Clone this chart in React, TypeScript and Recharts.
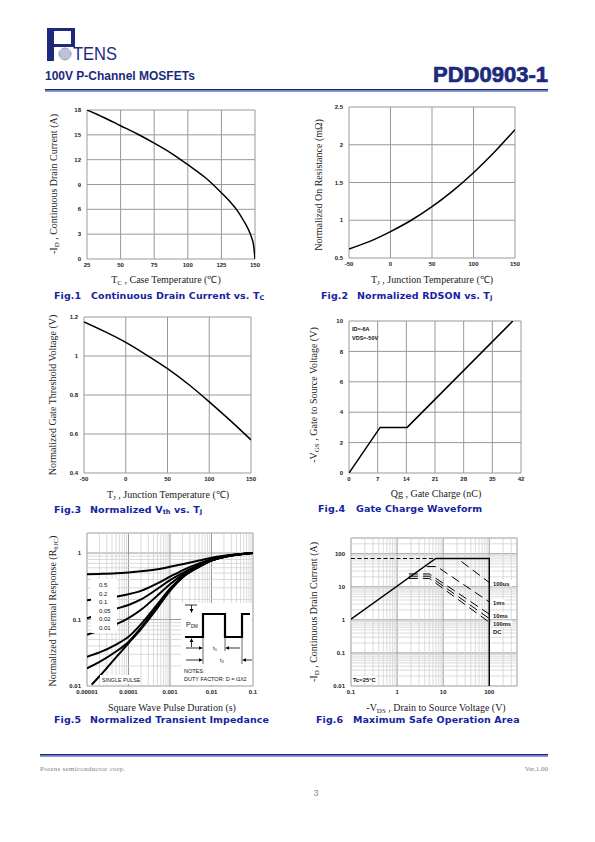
import React from "react";
import { LineChart, Line, XAxis, YAxis, CartesianGrid, ReferenceLine } from "recharts";

// Fig.1 - continuous drain current vs case temperature
const fig1CaseTemp = [25, 37.5, 50, 62.5, 75, 87.5, 100, 112.5, 125, 131, 137.5, 142, 145, 147, 149, 150];
const fig1DrainCurrent = [18, 17.1, 16.1, 15.1, 14.0, 12.8, 11.4, 9.9, 8.0, 7.0, 5.7, 4.5, 3.6, 2.8, 1.6, 0];
const fig1XTicks = [25, 50, 75, 100, 125, 150];
const fig1YTicks = [0, 3, 6, 9, 12, 15, 18];

// Fig.2 / Fig.3 - junction temperature sweeps
const junctionTemp = [-50, -25, 0, 25, 50, 75, 100, 125, 150];
const fig2Rdson = [0.62, 0.72, 0.85, 1.0, 1.18, 1.39, 1.63, 1.9, 2.2];
const fig3Vth = [1.175, 1.125, 1.07, 1.005, 0.935, 0.855, 0.765, 0.67, 0.57];
const junctionTicks = [-50, 0, 50, 100, 150];
const fig2YTicks = [0.5, 1, 1.5, 2, 2.5];
const fig3YTicks = [0.4, 0.6, 0.8, 1, 1.2];

// Fig.4 - gate charge
const fig4Charge = [0, 7.6, 14.2, 40];
const fig4Vgs = [0, 3, 3, 10];
const fig4XTicks = [0, 7, 14, 21, 28, 35, 42];
const fig4YTicks = [0, 2, 4, 6, 8, 10];

// Fig.5 - transient thermal impedance
const pulseWidth = [1e-5, 2e-5, 5e-5, 1e-4, 2e-4, 5e-4, 1e-3, 2e-3, 5e-3, 1e-2, 2e-2, 5e-2, 1e-1];
const zthD05 = [0.48, 0.485, 0.495, 0.51, 0.53, 0.57, 0.62, 0.68, 0.77, 0.85, 0.91, 0.97, 1.0];
const zthD02 = [0.195, 0.205, 0.22, 0.24, 0.27, 0.35, 0.44, 0.55, 0.7, 0.81, 0.89, 0.96, 1.0];
const zthD01 = [0.104, 0.12, 0.145, 0.165, 0.2, 0.29, 0.39, 0.5, 0.67, 0.79, 0.88, 0.96, 1.0];
const zthD005 = [0.059, 0.068, 0.085, 0.105, 0.14, 0.23, 0.34, 0.47, 0.65, 0.78, 0.88, 0.96, 1.0];
const zthD002 = [0.0276, 0.032, 0.042, 0.055, 0.085, 0.17, 0.29, 0.44, 0.63, 0.77, 0.87, 0.96, 1.0];
const zthD001 = [0.0185, 0.023, 0.033, 0.046, 0.075, 0.16, 0.28, 0.43, 0.62, 0.77, 0.87, 0.96, 1.0];
const singlePulseWidth = [1.3e-5, 2e-5, 5e-5, 1e-4, 2e-4, 5e-4, 1e-3, 2e-3, 5e-3, 1e-2, 2e-2, 5e-2, 1e-1];
const zthSingle = [0.0105, 0.014, 0.027, 0.044, 0.072, 0.15, 0.27, 0.43, 0.62, 0.77, 0.87, 0.96, 1.0];
const dutyLabels = ["0.5", "0.2", "0.1", "0.05", "0.02", "0.01"];
const fig5XTicks = [0.00001, 0.0001, 0.001, 0.01, 0.1];
const fig5YTicks = [0.01, 0.1, 1];

// Fig.6 - safe operating area
const soaLimitV = [0.1, 6.9, 100, 100];
const soaLimitI = [1.05, 72, 72, 0.01];
const soaCurrentCapV = [0.1, 6.9];
const soaCurrentCapI = [72, 72];
const soa100usV = [25, 100];
const soa100usI = [58, 13.5];
const soa1msV = [4.4, 7.3, 100];
const soa1msI = [41, 41, 3.5];
const soa10msV = [1.8, 5, 100];
const soa10msI = [24.5, 24.5, 1.5];
const soa100msV = [1.8, 5, 100];
const soa100msI = [21, 21, 1.1];
const soaDcV = [1.8, 5, 100];
const soaDcI = [18, 18, 0.85];
const soaLabels = ["100us", "1ms", "10ms", "100ms", "DC"];
const fig6XTicks = [0.1, 1, 10, 100];
const fig6YTicks = [0.01, 0.1, 1, 10, 100];

const pts = (xs: number[], ys: number[]) => xs.map((x, i) => ({ x, y: ys[i] }));

// 2..9 x 10^e for every decade between lo and hi (grid only)
const minorSteps = (lo: number, hi: number) => {
  const out: number[] = [];
  for (let e = lo; e < hi; e++) for (let m = 2; m <= 9; m++) out.push(+(m * Math.pow(10, e)).toPrecision(3));
  return out;
};

const SERIF = "'Liberation Serif', 'Times New Roman', serif";
const SANS = "'Liberation Sans', Arial, sans-serif";
const HEAVY = "'DejaVu Sans', Verdana, sans-serif";
const NAVY = "#1d2a7c";
const CAP_BLUE = "#1523a0";
const TICK = { fontSize: 6, fontWeight: 700, fill: "#222", fontFamily: SANS };

const YW = 26;
const XH = 14;
const PT = 4;
const PR = 8;

type Box = { x0: number; y0: number; x1: number; y1: number };

function Plot({
  box, xDomain, yDomain, xTicks, yTicks, log = false, xMinor = [], yMinor = [], children,
}: {
  box: Box; xDomain: number[]; yDomain: number[]; xTicks: number[]; yTicks: number[];
  log?: boolean; xMinor?: number[]; yMinor?: number[]; children: React.ReactNode;
}) {
  const w = box.x1 - box.x0 + YW + PR;
  const h = box.y1 - box.y0 + PT + XH;
  const scale = log ? "log" : "linear";
  return (
    <div style={{ position: "absolute", left: box.x0 - YW, top: box.y0 - PT }}>
      <LineChart width={w} height={h} margin={{ top: PT, right: PR, bottom: 0, left: 0 }}>
        <CartesianGrid stroke="#999" strokeWidth={1} />
        <XAxis
          dataKey="x" type="number" scale={scale} domain={xDomain} ticks={xTicks} interval={0}
          allowDataOverflow height={XH} tickSize={2} tickMargin={2} axisLine={false} tickLine={false} tick={TICK}
        />
        <YAxis
          type="number" scale={scale} domain={yDomain} ticks={yTicks} interval={0}
          allowDataOverflow width={YW} tickSize={4} tickMargin={2} axisLine={false} tickLine={false} tick={TICK}
        />
        {xMinor.map((v) => (
          <ReferenceLine key={"mx" + v} x={v} stroke="#d0d0d0" strokeWidth={0.8} />
        ))}
        {yMinor.map((v) => (
          <ReferenceLine key={"my" + v} y={v} stroke="#d0d0d0" strokeWidth={0.8} />
        ))}
        {children}
      </LineChart>
    </div>
  );
}

function curve(key: string, data: { x: number; y: number }[], opts: Record<string, unknown> = {}) {
  return (
    <Line
      key={key} data={data} dataKey="y" type="monotone" stroke="#000" strokeWidth={1.5}
      dot={false} activeDot={false} isAnimationActive={false} {...opts}
    />
  );
}

type Part = string | { s: string };
function rich(parts: Part[], subSize: number, shift = 2) {
  let down = false;
  return parts.map((p, i) => {
    if (typeof p === "string") {
      const dy = down ? -shift : 0;
      down = false;
      return <tspan key={i} dy={dy}>{p}</tspan>;
    }
    down = true;
    return <tspan key={i} fontSize={subSize} dy={shift}>{p.s}</tspan>;
  });
}

function YTitle({ cx, cy, parts }: { cx: number; cy: number; parts: Part[] }) {
  return (
    <text transform={`translate(${cx},${cy}) rotate(-90)`} y={3.5} textAnchor="middle" fontFamily={SERIF} fontSize={10} fill="#222">
      {rich(parts, 7)}
    </text>
  );
}

function XTitle({ cx, cy, parts }: { cx: number; cy: number; parts: Part[] }) {
  return (
    <text x={cx} y={cy + 3.5} textAnchor="middle" fontFamily={SERIF} fontSize={10} fill="#222">
      {rich(parts, 7)}
    </text>
  );
}

function Caption({ x, x2, cy, fig, parts }: { x: number; x2: number; cy: number; fig: string; parts: Part[] }) {
  return (
    <g fontFamily={HEAVY} fontWeight="bold" fontSize={9.5} letterSpacing={0.1} fill={CAP_BLUE}>
      <text x={x} y={cy + 3.5}>{fig}</text>
      <text x={x2} y={cy + 3.5}>{rich(parts, 6.5, 1.5)}</text>
    </g>
  );
}

function Arrow({ x1, y1, x2, y2 }: { x1: number; y1: number; x2: number; y2: number }) {
  const a = Math.atan2(y2 - y1, x2 - x1);
  const l = 4, hw = 1.8;
  const bx = x2 - l * Math.cos(a), by = y2 - l * Math.sin(a);
  const px = -Math.sin(a) * hw, py = Math.cos(a) * hw;
  return (
    <g>
      <line x1={x1} y1={y1} x2={bx} y2={by} stroke="#000" strokeWidth={0.8} />
      <path d={`M${x2},${y2} L${bx + px},${by + py} L${bx - px},${by - py} Z`} fill="#000" />
    </g>
  );
}

function Decorations() {
  const dutyY = [587, 595.5, 604, 612.5, 621, 629.5];
  const soaY = [585.5, 604.5, 617.5, 626, 633.5];
  return (
    <svg width={595} height={842} style={{ position: "absolute", left: 0, top: 0, pointerEvents: "none" }}>
      {/* logo */}
      <g fill={NAVY}>
        <rect x={47} y={28} width={7} height={33} />
        <rect x={54} y={28} width={19} height={3} />
        <rect x={71} y={28} width={4} height={19} />
        <rect x={54} y={44} width={19} height={3} />
      </g>
      <circle cx={65} cy={54} r={6.5} fill="#7d84ad" />
      <g stroke="#fff" strokeWidth={0.6}>
        {[-4, -2, 0, 2, 4].map((d) => (
          <line key={"h" + d} x1={58.5} x2={71.5} y1={54 + d} y2={54 + d} />
        ))}
        {[-4, -2, 0, 2, 4].map((d) => (
          <line key={"v" + d} y1={47.5} y2={60.5} x1={65 + d} x2={65 + d} />
        ))}
      </g>
      <text x={73} y={60} fontFamily={SANS} fontSize={19} fill={NAVY} textLength={44} lengthAdjust="spacingAndGlyphs">TENS</text>

      {/* header */}
      <text x={45} y={80} fontFamily={SANS} fontWeight="bold" fontSize={12} fill={NAVY}>100V P-Channel MOSFETs</text>
      <text x={548} y={82} textAnchor="end" fontFamily={SANS} fontWeight="bold" fontSize={22} fill={NAVY} stroke={NAVY} strokeWidth={0.7}>PDD0903-1</text>
      <rect x={45} y={89} width={503} height={1.5} fill="#1a2478" />
      <rect x={45} y={90.5} width={503} height={1.2} fill="#5a72c0" />

      {/* footer */}
      <rect x={40} y={754} width={508} height={1.5} fill="#1a2478" />
      <rect x={40} y={755.5} width={508} height={1.2} fill="#5a72c0" />
      <text x={40} y={771} fontFamily={SERIF} fontSize={7} fill="#808080" letterSpacing={0.3}>Potens semiconductor corp.</text>
      <text x={548} y={771} textAnchor="end" fontFamily={SERIF} fontSize={7} fill="#808080">Ver.1.00</text>
      <text x={316} y={796} textAnchor="middle" fontFamily={SANS} fontSize={9} fill="#888">3</text>

      {/* axis titles */}
      <YTitle cx={53} cy={184} parts={["-I", { s: "D" }, " , Continuous Drain Current (A)"]} />
      <XTitle cx={166} cy={279} parts={["T", { s: "C" }, " , Case Temperature (\u2103)"]} />
      <YTitle cx={318} cy={185} parts={["Normalized On Resistance (m\u03A9)"]} />
      <XTitle cx={432} cy={279} parts={["T", { s: "J" }, " , Junction Temperature (\u2103)"]} />
      <YTitle cx={52} cy={395} parts={["Normalized Gate Threshold Voltage (V)"]} />
      <XTitle cx={168} cy={494} parts={["T", { s: "J" }, " , Junction Temperature (\u2103)"]} />
      <YTitle cx={313} cy={395} parts={["-V", { s: "GS" }, " , Gate to Source Voltage (V)"]} />
      <XTitle cx={436} cy={493} parts={["Qg , Gate Charge (nC)"]} />
      <YTitle cx={52} cy={611} parts={["Normalized Thermal Response (R", { s: "\u03B8JC" }, ")"]} />
      <XTitle cx={172} cy={707} parts={["Square Wave Pulse Duration (s)"]} />
      <YTitle cx={313} cy={612} parts={["-I", { s: "D" }, " , Continuous Drain Current (A)"]} />
      <XTitle cx={436} cy={707} parts={["-V", { s: "DS" }, " , Drain to Source Voltage (V)"]} />

      {/* captions */}
      <Caption x={54} x2={91} cy={295} fig="Fig.1" parts={["Continuous Drain Current vs. T", { s: "C" }]} />
      <Caption x={321} x2={357} cy={295} fig="Fig.2" parts={["Normalized RDSON vs. T", { s: "J" }]} />
      <Caption x={54} x2={90} cy={509} fig="Fig.3" parts={["Normalized V", { s: "th" }, " vs. T", { s: "J" }]} />
      <Caption x={318} x2={356} cy={508} fig="Fig.4" parts={["Gate Charge Waveform"]} />
      <Caption x={54} x2={90} cy={719} fig="Fig.5" parts={["Normalized Transient Impedance"]} />
      <Caption x={316} x2={353} cy={719} fig="Fig.6" parts={["Maximum Safe Operation Area"]} />

      {/* fig.4 conditions */}
      <g fontFamily={SANS} fontWeight="bold" fontSize={5.5} fill="#111">
        <text x={352} y={331}>ID=-6A</text>
        <text x={352} y={340}>VDS=-50V</text>
      </g>

      {/* fig.5 duty labels, single pulse, inset */}
      <rect x={91} y={579} width={26} height={54} fill="#fff" />
      <g fontFamily={SANS} fontSize={6} fill="#111">
        {dutyLabels.map((t, i) => (
          <text key={t} x={99} y={dutyY[i]}>{t}</text>
        ))}
      </g>
      <rect x={100} y={675} width={37} height={9} fill="#fff" />
      <text x={102} y={682} fontFamily={SANS} fontSize={5.3} fill="#111">SINGLE PULSE</text>
      <rect x={181} y={603} width={71} height={82} fill="#fff" />
      <polyline points="185,637 203,637 203,614 225,614 225,637 242,637 242,614 250,614" fill="none" stroke="#000" strokeWidth={2.2} />
      <line x1={185} y1={605} x2={197} y2={605} stroke="#000" strokeWidth={0.8} />
      <Arrow x1={191.5} y1={605} x2={191.5} y2={613} />
      <Arrow x1={191.5} y1={647} x2={191.5} y2={638} />
      <text x={186} y={627} fontFamily={SANS} fontSize={7} fill="#111">P<tspan fontSize={4.5} dy={1}>DM</tspan></text>
      <g stroke="#000" strokeWidth={0.6}>
        <line x1={203} y1={637} x2={203} y2={664} />
        <line x1={225} y1={637} x2={225} y2={651} />
        <line x1={242} y1={637} x2={242} y2={664} />
      </g>
      <Arrow x1={186} y1={648} x2={203} y2={648} />
      <Arrow x1={240} y1={648} x2={225} y2={648} />
      <Arrow x1={186} y1={660} x2={203} y2={660} />
      <Arrow x1={252} y1={660} x2={242} y2={660} />
      <text x={213} y={650} fontFamily={SANS} fontSize={6} fill="#111">t<tspan fontSize={4} dy={1}>1</tspan></text>
      <text x={220} y={662} fontFamily={SANS} fontSize={6} fill="#111">t<tspan fontSize={4} dy={1}>2</tspan></text>
      <g fontFamily={SANS} fontSize={5.5} fill="#111">
        <text x={184} y={673}>NOTES:</text>
        <text x={184} y={680.5}>DUTY FACTOR: D = t1/t2</text>
      </g>

      {/* fig.6 labels */}
      <g fontFamily={SANS} fontWeight="bold" fontSize={5.8} fill="#111">
        {soaLabels.map((t, i) => (
          <g key={t}>
            <rect x={492} y={soaY[i] - 5.5} width={t.length * 3.6 + 2} height={6.5} fill="#fff" />
            <text x={493} y={soaY[i]}>{t}</text>
          </g>
        ))}
        <rect x={352} y={676} width={24} height={7} fill="#fff" />
        <text x={353} y={682}>{"Tc=25\u00B0C"}</text>
      </g>
    </svg>
  );
}

export default function App() {
  return (
    <div style={{ position: "absolute", left: 0, top: 0, width: 595, height: 842, background: "#fff", overflow: "hidden" }}>
      <Plot box={{ x0: 87, y0: 110, x1: 255, y1: 259 }} xDomain={[25, 150]} yDomain={[0, 18]} xTicks={fig1XTicks} yTicks={fig1YTicks}>
        {curve("fig1", pts(fig1CaseTemp, fig1DrainCurrent))}
      </Plot>
      <Plot box={{ x0: 349, y0: 107, x1: 515, y1: 258 }} xDomain={[-50, 150]} yDomain={[0.5, 2.5]} xTicks={junctionTicks} yTicks={fig2YTicks}>
        {curve("fig2", pts(junctionTemp, fig2Rdson))}
      </Plot>
      <Plot box={{ x0: 84, y0: 317, x1: 251, y1: 473 }} xDomain={[-50, 150]} yDomain={[0.4, 1.2]} xTicks={junctionTicks} yTicks={fig3YTicks}>
        {curve("fig3", pts(junctionTemp, fig3Vth))}
      </Plot>
      <Plot box={{ x0: 349, y0: 321, x1: 521, y1: 473 }} xDomain={[0, 42]} yDomain={[0, 10]} xTicks={fig4XTicks} yTicks={fig4YTicks}>
        {curve("fig4", pts(fig4Charge, fig4Vgs), { type: "linear" })}
      </Plot>
      <Plot
        box={{ x0: 87, y0: 533, x1: 253, y1: 686 }} log xDomain={[1e-5, 0.1]} yDomain={[0.01, 2]}
        xTicks={fig5XTicks} yTicks={fig5YTicks} xMinor={minorSteps(-5, -1)} yMinor={[...minorSteps(-2, 0), 2]}
      >
        {curve("d05", pts(pulseWidth, zthD05), { strokeWidth: 2 })}
        {curve("d02", pts(pulseWidth, zthD02), { strokeWidth: 2 })}
        {curve("d01", pts(pulseWidth, zthD01), { strokeWidth: 2 })}
        {curve("d005", pts(pulseWidth, zthD005), { strokeWidth: 2 })}
        {curve("d002", pts(pulseWidth, zthD002), { strokeWidth: 2 })}
        {curve("d001", pts(pulseWidth, zthD001), { strokeWidth: 2 })}
        {curve("single", pts(singlePulseWidth, zthSingle), { strokeWidth: 2 })}
      </Plot>
      <Plot
        box={{ x0: 351, y0: 538, x1: 517, y1: 686 }} log xDomain={[0.1, 400]} yDomain={[0.01, 300]}
        xTicks={fig6XTicks} yTicks={fig6YTicks} xMinor={[...minorSteps(-1, 2), 200, 300, 400]} yMinor={[...minorSteps(-2, 2), 200, 300]}
      >
        {curve("limit", pts(soaLimitV, soaLimitI), { type: "linear", strokeWidth: 1.4 })}
        {curve("cap", pts(soaCurrentCapV, soaCurrentCapI), { type: "linear", strokeWidth: 1.1, strokeDasharray: "4 2.5" })}
        {curve("100us", pts(soa100usV, soa100usI), { type: "linear", strokeWidth: 1, strokeDasharray: "9 5" })}
        {curve("1ms", pts(soa1msV, soa1msI), { type: "linear", strokeWidth: 1, strokeDasharray: "9 5" })}
        {curve("10ms", pts(soa10msV, soa10msI), { type: "linear", strokeWidth: 1, strokeDasharray: "9 5" })}
        {curve("100ms", pts(soa100msV, soa100msI), { type: "linear", strokeWidth: 1, strokeDasharray: "9 5" })}
        {curve("dc", pts(soaDcV, soaDcI), { type: "linear", strokeWidth: 1, strokeDasharray: "9 5" })}
      </Plot>
      <Decorations />
    </div>
  );
}
